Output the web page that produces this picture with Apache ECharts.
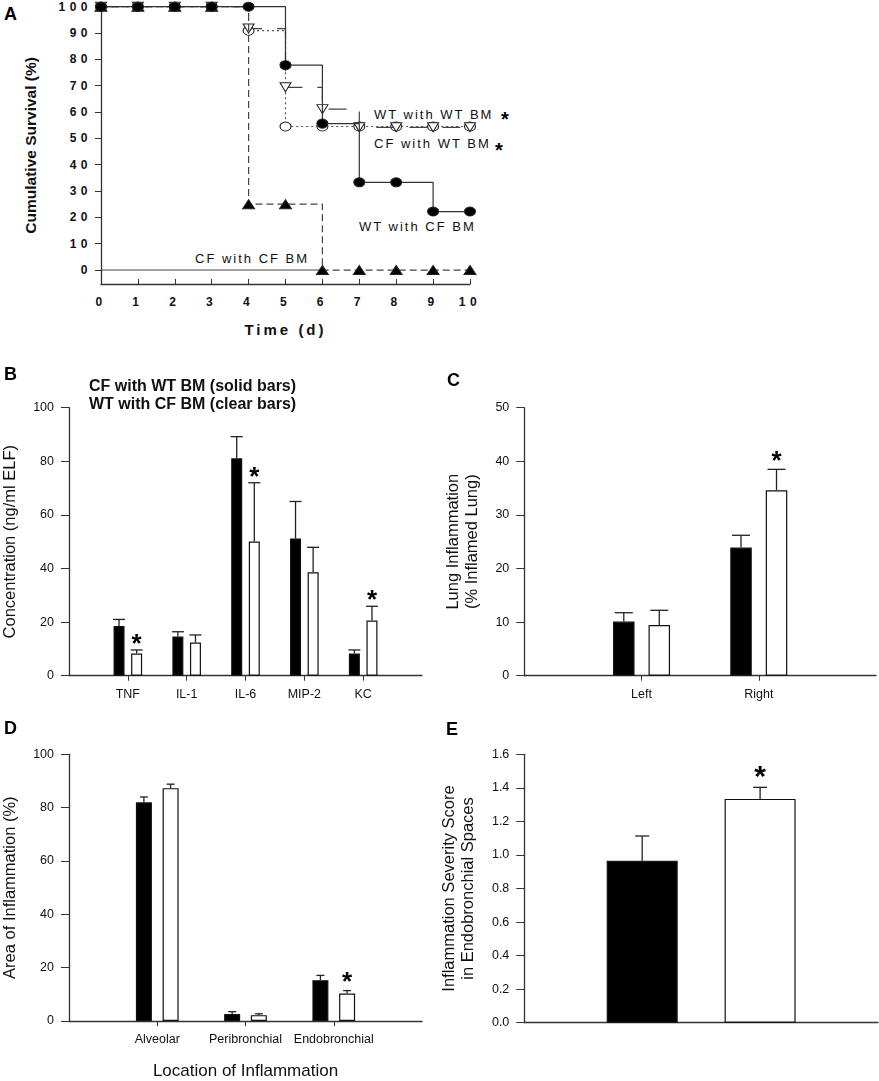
<!DOCTYPE html>
<html lang="en">
<head>
	<meta charset="utf-8">
	<title>Bone marrow chimeras: survival and lung inflammation</title>
	<script src="https://cdn.jsdelivr.net/npm/echarts@6.0.0/dist/echarts.min.js"></script>
	<style type="text/css">
		html, body {
			margin: 0;
			padding: 0;
			background: #fff;
		}
		.fig {
			position: absolute;
			left: 0;
			top: 0;
			width: 879px;
			height: 1081px;
		}
	</style>
</head>
<body>
	<div id="chartA" class="fig"></div>
	<div id="chartRest" class="fig"></div>
	<script type="text/javascript">
		// ---- A: cumulative survival (%) per day
		var days = [0, 1, 2, 3, 4, 5, 6, 7, 8, 9, 10];
		var survWtWithCf = [100, 100, 100, 100, 100, 77.8, 55.6, 33.3, 33.3, 22.2, 22.2];
		var survWtWithWt = [100, 100, 100, 100, 91.7, 69.4, 61.1, 54.2, 54.2, 54.2, 54.2];
		var survCfWithWt = [100, 100, 100, 100, 90.9, 54.5, 54.5, 54.5, 54.5, 54.5, 54.5];
		var survCfWithCf = [100, 100, 100, 100, 25, 25, 0, 0, 0, 0, 0];
		var zeroLineDays = [0, 6];
		var survivalTicks = [0, 10, 20, 30, 40, 50, 60, 70, 80, 90, 100];

		// ---- B: cytokines in ELF (ng/ml)
		var cytokines = ['TNF', 'IL-1', 'IL-6', 'MIP-2', 'KC'];
		var cytoSolid = [18.5, 14.6, 81.1, 51.2, 8.3];
		var cytoSolidSem = [2.5, 1.8, 8.1, 13.8, 1.3];
		var cytoClear = [8.3, 12.4, 50.1, 38.6, 20.6];
		var cytoClearSem = [1.3, 2.8, 21.9, 9.3, 5.3];
		var cytoStars = [true, false, true, false, true];

		// ---- C: lung inflammation (% inflamed lung)
		var lungSides = ['Left', 'Right'];
		var lungSolid = [10.1, 23.9];
		var lungSolidSem = [1.65, 2.3];
		var lungClear = [9.45, 34.6];
		var lungClearSem = [2.75, 3.9];
		var lungStars = [false, true];

		// ---- D: area of inflammation (%)
		var locations = ['Alveolar', 'Peribronchial', 'Endobronchial'];
		var areaSolid = [82.0, 2.6, 15.3];
		var areaSolidSem = [2.0, 0.9, 1.8];
		var areaClear = [87.3, 2.2, 10.3];
		var areaClearSem = [1.5, 0.5, 1.1];
		var areaStars = [false, false, true];

		// ---- E: severity score in endobronchial spaces
		var scoreGroups = ['CF with WT BM', 'WT with CF BM'];
		var scoreValues = [0.966, 1.334];
		var scoreSem = [0.147, 0.069];
		var scoreStars = [false, true];

		var FONT = '"Liberation Sans", Arial, sans-serif';
		var AXIS = '#333';
		var INK = '#111';

		function pairs(xs, ys) {
			return xs.map(function (x, i) { return [x, ys[i]]; });
		}

		// ================= panel A (svg, so the letters can be spaced out)
		var chartA = echarts.init(document.getElementById('chartA'), null, {renderer: 'svg'});

		function survLine(name, vals, z, line, sym) {
			return {
				name: name,
				type: 'line',
				step: 'end',
				z: z,
				data: pairs(days, vals),
				showAllSymbol: true,
				symbol: sym.symbol,
				symbolSize: sym.size,
				symbolRotate: sym.rotate || 0,
				itemStyle: {color: sym.fill, borderColor: '#222', borderWidth: 1},
				lineStyle: {color: line.color, width: 1.2, type: line.type}
			};
		}

		chartA.setOption({
			animation: false,
			textStyle: {fontFamily: FONT},
			grid: {left: 101, right: 409, top: 6.7, bottom: 797},
			xAxis: {
				type: 'value',
				min: 0,
				max: 10,
				interval: 1,
				axisLine: {onZero: false, lineStyle: {color: AXIS, width: 1.3}},
				axisTick: {inside: true, length: 5, lineStyle: {color: AXIS}},
				axisLabel: {margin: 12, fontSize: 12, fontWeight: 'bold', color: INK},
				splitLine: {show: false},
				name: 'Time (d)',
				nameLocation: 'middle',
				nameGap: 38,
				nameTextStyle: {fontSize: 15, fontWeight: 'bold', color: INK}
			},
			yAxis: {
				type: 'value',
				min: -5.3,
				max: 100,
				axisLine: {show: true, onZero: false, lineStyle: {color: AXIS, width: 1.3}},
				axisTick: {show: true, length: 6, customValues: survivalTicks, lineStyle: {color: AXIS}},
				axisLabel: {customValues: survivalTicks, margin: 9, fontSize: 12, fontWeight: 'bold', color: INK},
				splitLine: {show: false},
				name: 'Cumulative Survival (%)',
				nameLocation: 'middle',
				nameGap: 63,
				nameTextStyle: {fontSize: 15.5, fontWeight: 'bold', color: INK}
			},
			series: [
				{
					name: 'zero line',
					type: 'line',
					z: 1,
					symbol: 'none',
					data: zeroLineDays.map(function (d) { return [d, 0]; }),
					lineStyle: {color: '#444', width: 1}
				},
				survLine('CF with WT BM', survCfWithWt, 2,
					{color: '#555', type: [2, 3]},
					{symbol: 'circle', size: [11, 9], fill: '#fff'}),
				survLine('WT with WT BM', survWtWithWt, 3,
					{color: '#444', type: [18, 15]},
					{symbol: 'triangle', size: [11, 9], rotate: 180, fill: '#fff'}),
				survLine('CF with CF BM', survCfWithCf, 4,
					{color: '#444', type: [7, 4]},
					{symbol: 'triangle', size: [12, 9], fill: '#000'}),
				survLine('WT with CF BM', survWtWithCf, 5,
					{color: '#333', type: 'solid'},
					{symbol: 'circle', size: [11, 9], fill: '#000'})
			],
			graphic: [
				{type: 'text', x: 4, y: 14, style: {text: 'A', font: 'bold 18px ' + FONT, fill: '#000', textVerticalAlign: 'middle'}},
				{type: 'text', x: 374, y: 114, style: {text: 'WT with WT BM', font: '13px ' + FONT, fill: INK, textVerticalAlign: 'middle'}},
				{type: 'text', x: 505, y: 119, style: {text: '*', font: 'bold 20px ' + FONT, fill: '#000', textAlign: 'center', textVerticalAlign: 'middle'}},
				{type: 'text', x: 374, y: 143, style: {text: 'CF with WT BM', font: '13px ' + FONT, fill: INK, textVerticalAlign: 'middle'}},
				{type: 'text', x: 499, y: 150, style: {text: '*', font: 'bold 20px ' + FONT, fill: '#000', textAlign: 'center', textVerticalAlign: 'middle'}},
				{type: 'text', x: 359, y: 226, style: {text: 'WT with CF BM', font: '13px ' + FONT, fill: INK, textVerticalAlign: 'middle'}},
				{type: 'text', x: 195, y: 258, style: {text: 'CF with CF BM', font: '13px ' + FONT, fill: INK, textVerticalAlign: 'middle'}}
			]
		});

		// SigmaPlot-style letter spacing in panel A
		function spaceLetters() {
			var texts = document.querySelectorAll('#chartA text');
			for (var i = 0; i < texts.length; i++) {
				var size = parseFloat(getComputedStyle(texts[i]).fontSize);
				var s = 0;
				if (size === 12) s = 4.5;
				else if (size === 13) s = 2;
				else if (size === 15) s = 3;
				texts[i].style.letterSpacing = s + 'px';
			}
		}
		spaceLetters();
		chartA.on('finished', spaceLetters);

		// ================= panels B-E
		var chartRest = echarts.init(document.getElementById('chartRest'));

		var panels = [
			{
				grid: {left: 68, right: 457, top: 407.7, bottom: 405.3},
				cats: cytokines, solid: cytoSolid, solidSem: cytoSolidSem,
				clear: cytoClear, clearSem: cytoClearSem, stars: cytoStars,
				yMax: 100, yStep: 20, barW: 11, gap: 6.6, cap: 12, starGap: 11, starSize: 26,
				yName: 'Concentration (ng/ml ELF)', yNameGap: 49
			},
			{
				grid: {left: 524.3, right: 1, top: 407.7, bottom: 405.3},
				cats: lungSides, solid: lungSolid, solidSem: lungSolidSem,
				clear: lungClear, clearSem: lungClearSem, stars: lungStars,
				yMax: 50, yStep: 10, barW: 21.5, gap: 14, cap: 18, starGap: 13.5, starSize: 26,
				yName: 'Lung Inflammation\n(% Inflamed Lung)', yNameGap: 42
			},
			{
				grid: {left: 68, right: 457, top: 754.3, bottom: 58.3},
				cats: locations, solid: areaSolid, solidSem: areaSolidSem,
				clear: areaClear, clearSem: areaClearSem, stars: areaStars,
				yMax: 100, yStep: 20, barW: 16, gap: 10.7, cap: 8, starGap: 13.5, starSize: 26,
				yName: 'Area of Inflammation (%)', yNameGap: 49,
				xName: 'Location of Inflammation'
			}
		];

		var grids = [], xAxes = [], yAxes = [], series = [];

		function padCats(cats) {
			return [''].concat(cats, ['']);
		}

		function makeX(idx, cats, showTicks, xName) {
			var n = cats.length;
			var ax = {
				type: 'category',
				gridIndex: idx,
				data: padCats(cats),
				boundaryGap: false,
				axisLine: {lineStyle: {color: AXIS, width: 1.3}},
				axisTick: {
					show: showTicks,
					length: 5,
					interval: function (i) { return i > 0 && i <= n; },
					lineStyle: {color: AXIS}
				},
				axisLabel: {show: showTicks, interval: 0, margin: 12, fontSize: 12.5, color: INK},
				splitLine: {show: false}
			};
			if (xName) {
				ax.name = xName;
				ax.nameLocation = 'middle';
				ax.nameGap = 42;
				ax.nameTextStyle = {fontSize: 17, color: INK};
			}
			return ax;
		}

		function makeY(idx, max, step, name, gap, fmt) {
			return {
				type: 'value',
				gridIndex: idx,
				min: 0,
				max: max,
				interval: step,
				axisLine: {show: true, lineStyle: {color: AXIS, width: 1.3}},
				axisTick: {show: true, length: 8, lineStyle: {color: AXIS}},
				axisLabel: {margin: 15, fontSize: 12.5, color: INK, formatter: fmt},
				splitLine: {show: false},
				name: name,
				nameLocation: 'middle',
				nameGap: gap,
				nameTextStyle: {fontSize: 16.5, lineHeight: 19, color: INK}
			};
		}

		function errorBars(idx, vals, sems, stars, offset, p) {
			return {
				type: 'custom',
				xAxisIndex: idx,
				yAxisIndex: idx,
				z: 5,
				data: vals.map(function (v, i) {
					return [i + 1, v, v + sems[i], stars && stars[i] ? 1 : 0];
				}),
				renderItem: function (params, api) {
					var base = api.coord([api.value(0), api.value(1)]);
					var top = api.coord([api.value(0), api.value(2)]);
					var x = base[0] + offset;
					var line = {stroke: '#222', lineWidth: 1.3};
					var kids = [
						{type: 'line', shape: {x1: x, y1: base[1], x2: x, y2: top[1]}, style: line},
						{type: 'line', shape: {x1: x - p.cap / 2, y1: top[1], x2: x + p.cap / 2, y2: top[1]}, style: line}
					];
					if (api.value(3)) {
						kids.push({
							type: 'text',
							x: x,
							y: top[1] - p.starGap + 0.22 * p.starSize,
							style: {text: '*', font: 'bold ' + p.starSize + 'px ' + FONT, fill: '#000', textAlign: 'center', textVerticalAlign: 'middle'}
						});
					}
					return {type: 'group', children: kids};
				}
			};
		}

		function barSeries(idx, vals, filled, p) {
			return {
				type: 'bar',
				xAxisIndex: idx,
				yAxisIndex: idx,
				barWidth: p.barW,
				barGap: (p.gap / p.barW * 100) + '%',
				data: vals.map(function (v, i) { return [i + 1, v]; }),
				itemStyle: {color: filled ? '#000' : '#fff', borderColor: '#111', borderWidth: 1.2}
			};
		}

		panels.forEach(function (p, idx) {
			grids.push(p.grid);
			xAxes.push(makeX(idx, p.cats, true, p.xName));
			yAxes.push(makeY(idx, p.yMax, p.yStep, p.yName, p.yNameGap));
			var off = (p.barW + p.gap) / 2;
			series.push(barSeries(idx, p.solid, true, p));
			series.push(barSeries(idx, p.clear, false, p));
			series.push(errorBars(idx, p.solid, p.solidSem, null, -off, p));
			series.push(errorBars(idx, p.clear, p.clearSem, p.stars, off, p));
		});

		// E: one bar per group, solid then clear
		var pE = {barW: 71, cap: 14, starGap: 16.5, starSize: 30};
		grids.push({left: 524.3, right: 1, top: 754.3, bottom: 58.3});
		xAxes.push(makeX(3, scoreGroups, false));
		yAxes.push(makeY(3, 1.6, 0.2, 'Inflammation Severity Score\nin Endobronchial Spaces', 46,
			function (v) { return v.toFixed(1); }));
		series.push({
			type: 'bar',
			xAxisIndex: 3,
			yAxisIndex: 3,
			barWidth: pE.barW,
			data: scoreValues.map(function (v, i) {
				return {
					value: [i + 1, v],
					itemStyle: {color: i === 0 ? '#000' : '#fff', borderColor: '#111', borderWidth: 1.2}
				};
			})
		});
		series.push(errorBars(3, scoreValues, scoreSem, scoreStars, 0, pE));

		var letterFont = 'bold 18px ' + FONT;
		chartRest.setOption({
			animation: false,
			textStyle: {fontFamily: FONT},
			grid: grids,
			xAxis: xAxes,
			yAxis: yAxes,
			series: series,
			graphic: [
				{type: 'text', x: 4, y: 375, style: {text: 'B', font: letterFont, fill: '#000', textVerticalAlign: 'middle'}},
				{type: 'text', x: 447, y: 381, style: {text: 'C', font: letterFont, fill: '#000', textVerticalAlign: 'middle'}},
				{type: 'text', x: 4, y: 729, style: {text: 'D', font: letterFont, fill: '#000', textVerticalAlign: 'middle'}},
				{type: 'text', x: 446, y: 730, style: {text: 'E', font: letterFont, fill: '#000', textVerticalAlign: 'middle'}},
				{type: 'text', x: 89, y: 387, style: {text: 'CF with WT BM (solid bars)', font: 'bold 16px ' + FONT, fill: INK, textVerticalAlign: 'middle'}},
				{type: 'text', x: 89, y: 405, style: {text: 'WT with CF BM (clear bars)', font: 'bold 16px ' + FONT, fill: INK, textVerticalAlign: 'middle'}}
			]
		});

		window.onresize = function () {
			chartA.resize();
			chartRest.resize();
		};
	</script>
</body>
</html>
